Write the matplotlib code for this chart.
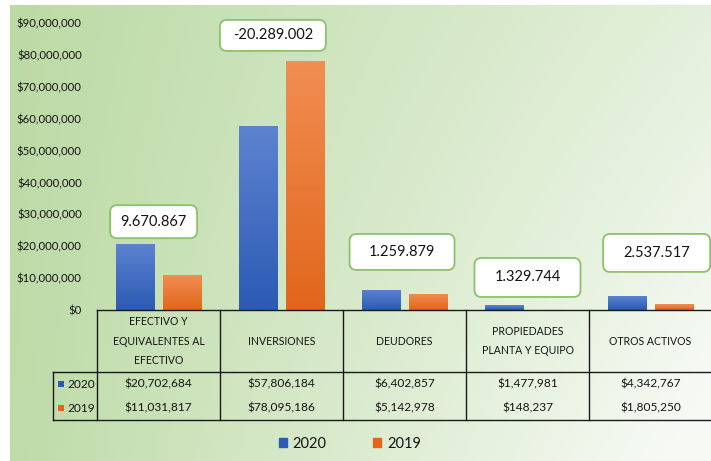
import numpy as np
import matplotlib
matplotlib.use("Agg")
import matplotlib.pyplot as plt
from matplotlib.colors import LinearSegmentedColormap
from matplotlib.patches import FancyBboxPatch, Patch
from matplotlib.ticker import FuncFormatter
from matplotlib.transforms import ScaledTranslation

categories = ["EFECTIVO Y\nEQUIVALENTES AL\nEFECTIVO", "INVERSIONES", "DEUDORES",
              "PROPIEDADES\nPLANTA Y EQUIPO", "OTROS ACTIVOS"]
values_2020 = [20702684, 57806184, 6402857, 1477981, 4342767]
values_2019 = [11031817, 78095186, 5142978, 148237, 1805250]
series_names = ["2020", "2019"]

# layout of the difference boxes (Excel callouts, placed by hand)
box_dx = [-0.04, -0.07, -0.02, 0.0, 0.05]
box_y = [27.7e6, 86.1e6, 18.2e6, 10.2e6, 17.9e6]
box_size_px = [(87, 33), (106, 31), (105, 36), (106, 39), (107, 38)]

W, H = 711, 461
FONT = "Lato"
TEXT = "#141414"
BLUE = ("#5c83cf", "#2c5ab4")
ORANGE = ("#f18e52", "#e1661b")


def px(x, y, w, h):
  return [x / W, 1 - (y + h) / H, w / W, h / H]


def gradient_bar(axes, bar, colors):
  cmap = LinearSegmentedColormap.from_list("bar", [colors[1], colors[0]])
  x0, w, hgt = bar.get_x(), bar.get_width(), bar.get_height()
  image = axes.imshow(np.linspace(0, 1, 64).reshape(-1, 1), extent=[x0, x0 + w, 0, hgt],
                      origin="lower", aspect="auto", cmap=cmap, zorder=2)
  image.set_clip_path(bar)


def main():
  plt.rcParams["font.family"] = [FONT, "DejaVu Sans"]
  figure = plt.figure(figsize=(W / 100, H / 100), dpi=100)
  figure.patch.set_facecolor("white")

  # green gradient background
  background = figure.add_axes(px(10, 5, 701, 456))
  gx, gy = np.meshgrid(np.linspace(0, 1, 300), np.linspace(0, 1, 200))
  shade = np.clip(0.68 * gx + 0.35 * gy * gx + 0.04 * gy, 0, 1)
  background.imshow(shade, cmap=LinearSegmentedColormap.from_list("bg", ["#bcdaa5", "#f6faf4"]),
                    aspect="auto", extent=[0, 1, 1, 0])
  background.set_axis_off()

  axes = figure.add_axes(px(97, 23, 615, 287))
  axes.patch.set_alpha(0)
  x = np.arange(len(categories))
  width = 0.31
  bars_2020 = axes.bar(x - 0.19, values_2020, width, color="none", edgecolor="none")
  bars_2019 = axes.bar(x + 0.19, values_2019, width, color="none", edgecolor="none")
  for bar in bars_2020:
    gradient_bar(axes, bar, BLUE)
  for bar in bars_2019:
    gradient_bar(axes, bar, ORANGE)

  axes.set_xlim(-0.5, len(categories) - 0.5)
  axes.set_ylim(0, 90e6)
  axes.set_yticks(np.arange(0, 90e6 + 1, 10e6))
  axes.yaxis.set_major_formatter(FuncFormatter(lambda v, _: f"${v:,.0f}"))
  axes.tick_params(axis="y", length=0, pad=11, labelsize=8.2, labelcolor=TEXT)
  axes.set_xticks([])
  for spine in axes.spines.values():
    spine.set_visible(False)

  # difference callouts
  for i, (a, b) in enumerate(zip(values_2020, values_2019)):
    label = f"{a - b:,}".replace(",", ".")
    cx, cy = x[i] + box_dx[i], box_y[i]
    bw, bh = box_size_px[i][0] / 100, box_size_px[i][1] / 100
    place = figure.dpi_scale_trans + ScaledTranslation(cx, cy, axes.transData)
    axes.add_patch(FancyBboxPatch((-bw / 2, -bh / 2), bw, bh,
                                  boxstyle="round,pad=0,rounding_size=0.07",
                                  facecolor="white", edgecolor="#8cc26b", linewidth=1.3,
                                  transform=place, clip_on=False, zorder=4))
    axes.text(cx, cy, label, ha="center", va="center", fontsize=10.5, color=TEXT, zorder=5)

  # data table
  table = figure.add_axes(px(53, 310, 659, 110))
  table.set_axis_off()
  table.patch.set_alpha(0)
  left = -0.5 - 44 / 123
  table.set_xlim(left, len(categories) - 0.5)
  table.set_ylim(110, 0)
  line = dict(color="#1a1a1a", linewidth=1, clip_on=False)
  table.plot([-0.5, len(categories) - 0.5], [0, 0], **line)
  for yy in (62, 110):
    table.plot([left, len(categories) - 0.5], [yy, yy], **line)
  table.plot([left, left], [62, 110], **line)
  for k in range(len(categories) + 1):
    table.plot([k - 0.5, k - 0.5], [0, 110], **line)
  for i, name in enumerate(categories):
    table.text(x[i], 31, name, ha="center", va="center", fontsize=7.6, color=TEXT, linespacing=1.95)
    table.text(x[i], 74, f"${values_2020[i]:,}", ha="center", va="center", fontsize=8.6, color=TEXT)
    table.text(x[i], 98, f"${values_2019[i]:,}", ha="center", va="center", fontsize=8.6, color=TEXT)
  for yy, name, colors in ((74, series_names[0], BLUE), (98, series_names[1], ORANGE)):
    table.scatter([left + 0.065], [yy], marker="s", s=14, color=colors[1], linewidths=0)
    table.text(left + 0.12, yy, name, ha="left", va="center", fontsize=8.6, color=TEXT)

  handles = [Patch(color=BLUE[1]), Patch(color=ORANGE[1])]
  figure.legend(handles, series_names, loc="center", bbox_to_anchor=(350 / W, 1 - 444 / H),
                ncol=2, frameon=False, fontsize=10.5, handlelength=0.55, handleheight=0.55,
                handletextpad=0.4, columnspacing=3.2, labelcolor=TEXT)

  plt.savefig("out.png", dpi=100)
  plt.close()


if __name__ == "__main__":
  main()
